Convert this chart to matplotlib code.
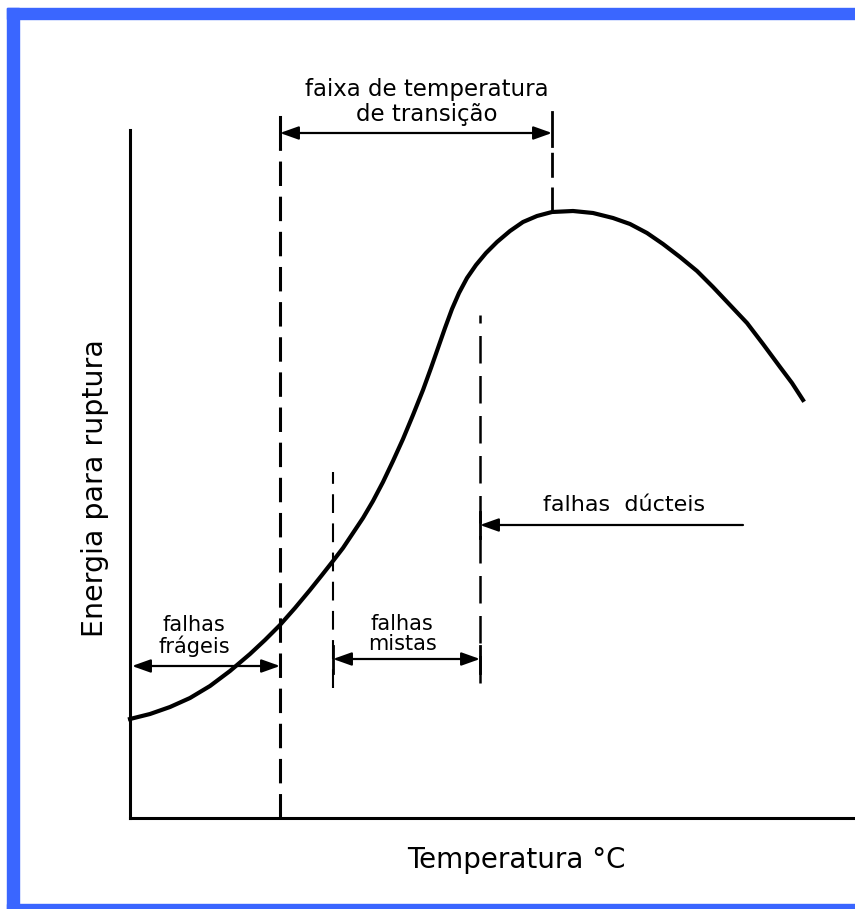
import matplotlib.pyplot as plt
from matplotlib.patches import Rectangle

# curva energia x temperatura (unidades arbitrarias)
temp = [0, 20, 40, 60, 80, 100, 120, 135, 150, 165, 180, 192, 203, 213, 223,
        233, 243, 253, 263, 273, 283, 293, 301, 308, 315, 322, 329, 337, 346,
        356, 367, 380, 393, 407, 422, 443, 463, 483, 500, 517, 533, 550,
        567, 583, 600, 617, 633, 650, 662, 673]
energia = [99, 104, 111, 120, 132, 147, 164, 178, 193, 210, 228, 243, 257, 270, 285,
           300, 317, 336, 357, 379, 403, 428, 450, 470, 490, 509, 525, 540, 553,
           565, 576, 587, 596, 602, 606, 607, 605, 600, 594, 585, 574, 561,
           547, 531, 513, 495, 474, 451, 435, 418]

# limites das faixas
t_fragil = 150
t_mista = 203
t_ductil = 350
t_pico = 422

W, H = 855, 909
fig = plt.figure(figsize=(W / 100, H / 100), dpi=100)
fig.patch.set_facecolor('white')

azul = '#3a66ff'
# moldura azul (lado direito cortado)
fig.patches.append(Rectangle((7 / W, 1 - 19 / H), 1, 11 / H, transform=fig.transFigure,
                             color=azul, zorder=0))
fig.patches.append(Rectangle((7 / W, 0), 12 / W, 1 - 8 / H, transform=fig.transFigure,
                             color=azul, zorder=0))
fig.patches.append(Rectangle((7 / W, 0), 1, 5 / H, transform=fig.transFigure,
                             color=azul, zorder=0))

ax = fig.add_axes([130 / W, (H - 818) / H, 725 / W, 688 / H])
ax.set_xlim(0, 725)
ax.set_ylim(0, 688)
ax.set_xticks([])
ax.set_yticks([])
for s in ['top', 'right']:
    ax.spines[s].set_visible(False)
for s in ['left', 'bottom']:
    ax.spines[s].set_linewidth(2.2)

ax.plot(temp, energia, color='black', lw=3, solid_joinstyle='round', clip_on=False)

# linhas tracejadas
ax.plot([t_fragil, t_fragil], [0, 670], color='black', lw=2.2, ls=(0, (8, 3.5)), clip_on=False)
ax.plot([t_fragil, t_fragil], [670, 701], color='black', lw=2.2, clip_on=False)
ax.plot([t_pico, t_pico], [606, 672], color='black', lw=2, ls=(0, (9, 3.5)), clip_on=False)
ax.plot([t_pico, t_pico], [672, 706], color='black', lw=2, clip_on=False)
ax.plot([t_mista, t_mista], [130, 346], color='black', lw=1.5, ls=(0, (9, 5)), clip_on=False)
ax.plot([t_ductil, t_ductil], [135, 503], color='black', lw=1.8, ls=(0, (11, 5)), clip_on=False)

# pequenos traços nas pontas das setas
ax.plot([t_mista, t_mista], [145, 172], color='black', lw=2)
ax.plot([t_ductil, t_ductil], [145, 172], color='black', lw=2)
ax.plot([t_ductil, t_ductil], [280, 306], color='black', lw=2)

seta = dict(arrowstyle='<|-|>,head_length=0.7,head_width=0.25', color='black', lw=1.6,
            mutation_scale=16, shrinkA=0, shrinkB=0)
ax.annotate('', xy=(t_fragil, 685), xytext=(t_pico, 685), arrowprops=seta, annotation_clip=False)
ax.annotate('', xy=(2, 152), xytext=(t_fragil, 152), arrowprops=seta)
ax.annotate('', xy=(t_mista, 159), xytext=(t_ductil, 159), arrowprops=seta)
ax.annotate('', xy=(t_ductil, 293), xytext=(613, 293),
            arrowprops=dict(arrowstyle='-|>,head_length=0.7,head_width=0.25', color='black',
                            lw=1.6, mutation_scale=16, shrinkA=0, shrinkB=0))

ax.text(297, 716, 'faixa de temperatura\nde transição', ha='center', va='center',
        fontsize=16.5, linespacing=1.15, clip_on=False)
ax.text(64, 182, 'falhas\nfrágeis', ha='center', va='center', fontsize=15, linespacing=1.0)
ax.text(272, 184, 'falhas\nmistas', ha='center', va='center', fontsize=15, linespacing=1.0)
ax.text(494, 313, 'falhas  dúcteis', ha='center', va='center', fontsize=16)

fig.text(516 / W, 1 - 860 / H, 'Temperatura °C', ha='center', va='center', fontsize=20)
fig.text(95 / W, 1 - 488 / H, 'Energia para ruptura', ha='center', va='center',
         fontsize=20.5, rotation=90)

fig.savefig('out.png', dpi=100, facecolor='white')
